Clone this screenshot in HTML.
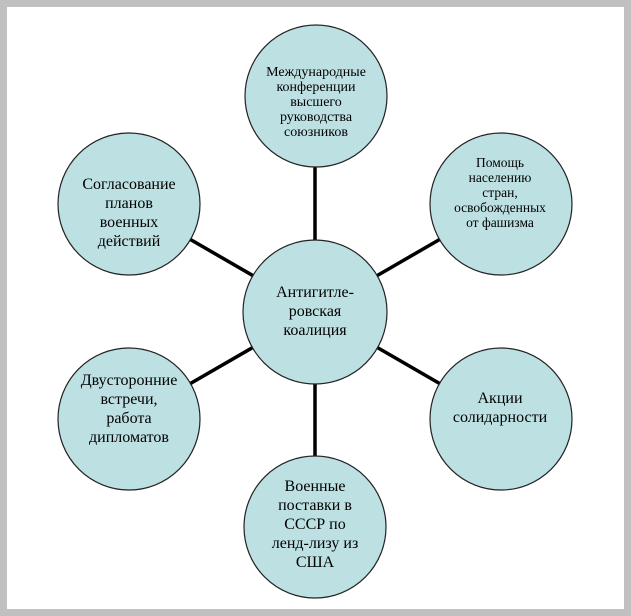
<!DOCTYPE html>
<html><head><meta charset="utf-8"><style>
html,body{margin:0;padding:0;}
body{width:631px;height:616px;background:#c0c0c0;position:relative;overflow:hidden;}
.w{position:absolute;left:7px;top:7px;width:617px;height:602px;background:#fff;}
svg{position:absolute;left:0;top:0;}
text{font-family:"Liberation Serif",serif;fill:#000;text-anchor:middle;}
</style></head><body>
<div class="w"></div>
<svg width="631" height="616">
<g stroke="#000" stroke-width="3.5">
<line x1="315" y1="96" x2="315" y2="527"/>
<line x1="129" y1="204" x2="501" y2="419"/>
<line x1="129" y1="419" x2="501" y2="204"/>
</g>
<g fill="#bde0e3" stroke="#222" stroke-width="1.2">
<circle cx="316" cy="96" r="71"/>
<circle cx="501" cy="204" r="71"/>
<circle cx="501" cy="419" r="71"/>
<circle cx="315" cy="527" r="71"/>
<circle cx="129" cy="419" r="71"/>
<circle cx="129" cy="204" r="71"/>
<circle cx="315" cy="312" r="72"/>
</g>
<g font-size="14">
<text x="316" y="76">Международные</text>
<text x="316" y="91">конференции</text>
<text x="316" y="106">высшего</text>
<text x="316" y="121">руководства</text>
<text x="316" y="136">союзников</text>
</g>
<g font-size="13.5">
<text x="500" y="167">Помощь</text>
<text x="500" y="182">населению</text>
<text x="500" y="197">стран,</text>
<text x="500" y="212">освобожденных</text>
<text x="500" y="227">от фашизма</text>
</g>
<g font-size="16">
<text x="129" y="189">Согласование</text>
<text x="129" y="208">планов</text>
<text x="129" y="227">военных</text>
<text x="129" y="246">действий</text>
<text x="315" y="297">Антигитле-</text>
<text x="315" y="316">ровская</text>
<text x="315" y="335">коалиция</text>
<text x="500" y="403">Акции</text>
<text x="500" y="422">солидарности</text>
<text x="129" y="385">Двусторонние</text>
<text x="129" y="404">встречи,</text>
<text x="129" y="423">работа</text>
<text x="129" y="442">дипломатов</text>
<text x="315" y="491">Военные</text>
<text x="315" y="510">поставки в</text>
<text x="315" y="529">СССР по</text>
<text x="315" y="548">ленд-лизу из</text>
<text x="315" y="567">США</text>
</g>
</svg>
</body></html>
